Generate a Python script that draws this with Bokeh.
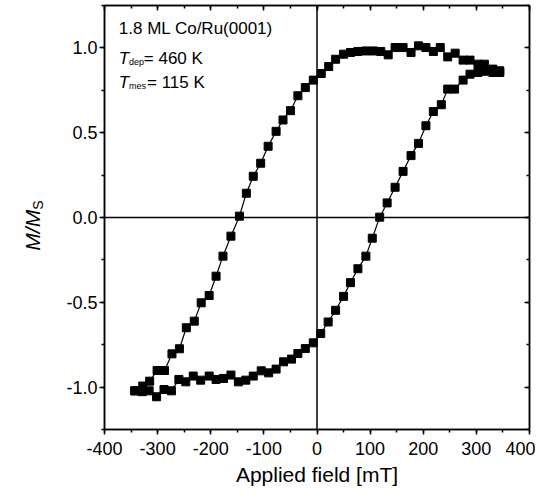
import numpy as np
from bokeh.plotting import figure
from bokeh.layouts import row
from bokeh.models import (Range1d, SingleIntervalTicker, LinearAxis, Span, Label,
                          CustomJSTickFormatter)
from bokeh.core.properties import value
from bokeh.embed import file_html
from bokeh.resources import INLINE

FONT = "Liberation Sans"

# Upper branch (field decreasing from +344 mT)
x_up = [344, 331, 315, 303, 288, 275, 260, 246, 232, 219,
        205, 191, 177, 162, 147, 134, 120, 106, 92, 77,
        63, 50, 35, 22, 8, -7, -22, -36, -50, -64,
        -77, -92, -106, -120, -133, -146, -162, -177, -190, -203,
        -218, -231, -246, -259, -273, -287, -301, -315, -328, -343]
y_up = [0.865, 0.875, 0.904, 0.904, 0.928, 0.928, 0.969, 0.947, 1.002, 0.979,
        1.002, 1.012, 0.973, 1.002, 1.002, 0.959, 0.979, 0.982, 0.982, 0.979,
        0.973, 0.963, 0.933, 0.890, 0.849, 0.810, 0.766, 0.718, 0.630, 0.575,
        0.508, 0.420, 0.320, 0.243, 0.143, 0.008, -0.110, -0.228, -0.346, -0.460,
        -0.503, -0.611, -0.650, -0.774, -0.804, -0.902, -0.902, -0.965, -0.994, -1.022]

# Lower branch (field increasing from -343 mT)
x_lo = [-343, -329, -316, -302, -288, -274, -260, -247, -233, -219,
        -203, -190, -176, -162, -148, -134, -120, -105, -91, -77,
        -63, -48, -36, -22, -7, 7, 21, 35, 50, 63,
        77, 92, 104, 118, 132, 147, 162, 177, 191, 205,
        219, 234, 246, 259, 275, 288, 303, 315, 331, 344]
y_lo = [-1.022, -1.027, -1.022, -1.057, -1.014, -1.022, -0.955, -0.969, -0.935, -0.959,
        -0.935, -0.955, -0.949, -0.929, -0.969, -0.959, -0.935, -0.904, -0.916, -0.894,
        -0.851, -0.835, -0.802, -0.773, -0.739, -0.684, -0.616, -0.547, -0.465, -0.384,
        -0.302, -0.228, -0.122, 0.002, 0.086, 0.178, 0.272, 0.365, 0.437, 0.541,
        0.625, 0.665, 0.757, 0.757, 0.810, 0.845, 0.855, 0.862, 0.855, 0.855]

x_ticks_interval = 100
y_ticks_interval = 0.5

yr = Range1d(-1.25, 1.25)
FH = 424
TOP = 5
BOT = 60
LAB_W = 44

# narrow figure holding the rotated y-axis title
pl = figure(frame_width=LAB_W, frame_height=FH, x_range=Range1d(0, LAB_W), y_range=yr,
            x_axis_type=None, y_axis_type=None, output_backend="svg", toolbar_location=None,
            min_border_left=0, min_border_right=0, min_border_top=TOP, min_border_bottom=BOT,
            background_fill_color="white", border_fill_color="white")
pl.grid.visible = False
pl.outline_line_color = None
pl.text(x=[31.7], y=[0.045], text=["M/M"], angle=np.pi / 2, text_align="right",
        text_baseline="alphabetic", text_font=value(FONT), text_font_style="italic",
        text_font_size="21px", text_color="black")
pl.text(x=[37.0], y=[0.045], text=["S"], angle=np.pi / 2, text_align="left",
        text_baseline="alphabetic", text_font=value(FONT), text_font_style="normal",
        text_font_size="14px", text_color="black")

p = figure(frame_width=425, frame_height=FH,
           x_range=Range1d(-400, 400), y_range=yr,
           output_backend="svg", toolbar_location=None,
           min_border_left=104 - LAB_W, min_border_right=6, min_border_top=TOP,
           min_border_bottom=BOT,
           background_fill_color="white", border_fill_color="white")
p.grid.visible = False
p.outline_line_color = "black"
p.outline_line_width = 1.5

xt = SingleIntervalTicker(interval=x_ticks_interval, num_minor_ticks=2)
yt = SingleIntervalTicker(interval=y_ticks_interval, num_minor_ticks=2)

xa = p.xaxis[0]
xa.ticker = xt
xa.formatter = CustomJSTickFormatter(code="return tick.toFixed(0);")
ya = p.yaxis[0]
ya.ticker = yt
ya.formatter = CustomJSTickFormatter(code="return tick.toFixed(1);")
for ax in (xa, ya):
    ax.axis_line_color = "black"
    ax.axis_line_width = 1.5
    ax.major_tick_line_color = "black"
    ax.minor_tick_line_color = "black"
    ax.major_tick_line_width = 1.5
    ax.minor_tick_line_width = 1.5
    ax.major_tick_out = 5
    ax.major_tick_in = 0
    ax.minor_tick_out = 3
    ax.minor_tick_in = 0
    ax.major_label_text_font = FONT
    ax.major_label_text_font_size = "18px"
    ax.major_label_text_color = "black"
xa.major_label_standoff = 7
ya.major_label_standoff = 2
xa.axis_label = "Applied field [mT]"
xa.axis_label_text_font = FONT
xa.axis_label_text_font_size = "21px"
xa.axis_label_text_font_style = "normal"
xa.axis_label_text_color = "black"
xa.axis_label_standoff = 5

for loc, tk in (("above", xt), ("right", yt)):
    ax = LinearAxis(ticker=tk, formatter=CustomJSTickFormatter(code="return '';"))
    ax.axis_line_color = "black"
    ax.axis_line_width = 1.5
    ax.major_tick_line_color = "black"
    ax.minor_tick_line_color = "black"
    ax.major_tick_line_width = 1.5
    ax.minor_tick_line_width = 1.5
    ax.major_tick_in = 5
    ax.major_tick_out = 0
    ax.minor_tick_in = 3
    ax.minor_tick_out = 0
    ax.major_label_standoff = 0
    ax.major_label_text_font_size = "0px"
    p.add_layout(ax, loc)

p.add_layout(Span(location=0, dimension="height", line_color="black", line_width=1.5))
p.add_layout(Span(location=0, dimension="width", line_color="black", line_width=1.5))

x_all = x_up + x_lo
y_all = y_up + y_lo
p.line(x_all, y_all, line_color="black", line_width=1.2)
p.scatter(x_all, y_all, marker="square", size=8, color="black", line_color="black")

def lab(x, y, text, size, style="normal"):
    p.add_layout(Label(x=x, y=y, text=text, text_font=FONT, text_font_size=size,
                       text_font_style=style, text_align="left", text_baseline="alphabetic",
                       text_color="black"))

lab(-373.0, 1.112, "1.8 ML Co/Ru(0001)", "17px")
lab(-373.0, 0.935, "T", "17px", "italic")
lab(-354.0, 0.915, "dep", "9px")
lab(-326.0, 0.935, "= 460 K", "17px")
lab(-373.0, 0.797, "T", "17px", "italic")
lab(-354.0, 0.777, "mes", "9px")
lab(-320.0, 0.797, "= 115 K", "17px")

layout = row(pl, p, spacing=0)
open("out.html", "w").write(file_html(layout, INLINE))
